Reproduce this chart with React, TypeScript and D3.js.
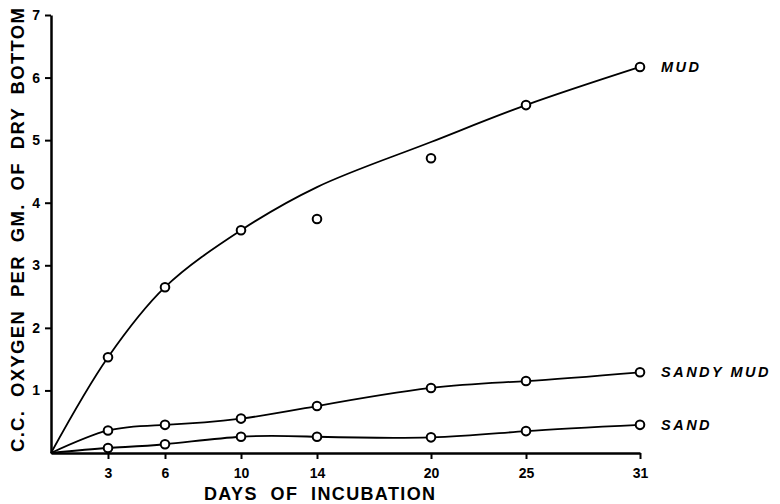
import { useEffect, useRef } from "react";
import * as d3 from "d3";

// days on which samples were measured
const days = [3, 6, 10, 14, 20, 25, 31];
const xTicks = [3, 6, 10, 14, 20, 25, 31];
const yTicks = [1, 2, 3, 4, 5, 6, 7];

// measured oxygen (c.c. per gm. of dry bottom)
const mud = [1.53, 2.65, 3.56, 3.74, 4.71, 5.56, 6.17];
const sandyMud = [0.36, 0.45, 0.55, 0.75, 1.04, 1.15, 1.29];
const sand = [0.08, 0.14, 0.26, 0.26, 0.25, 0.35, 0.45];

// smoothed mud curve as drawn in the figure (does not pass every point)
const mudCurveDays = [0, 3, 6, 10, 14, 20, 25, 31];
const mudCurve = [0, 1.53, 2.65, 3.56, 4.25, 4.97, 5.56, 6.17];

const seriesLabels = ["MUD", "SANDY MUD", "SAND"];

const App = () => {
  const ref = useRef<SVGSVGElement>(null);

  useEffect(() => {
    const w = 780;
    const h = 504;
    const svg = d3.select(ref.current);
    svg.selectAll("*").remove();

    const font = "'Liberation Sans', Arial, sans-serif";
    const x = d3.scaleLinear().domain([0, 31]).range([51, 640]);
    const y = d3.scaleLinear().domain([0, 7]).range([453, 15]);

    // axes
    const xAxis = svg.append("g").attr("transform", `translate(0,${y(0)})`)
      .call(d3.axisBottom(x).tickValues(xTicks).tickSize(6).tickSizeOuter(0).tickFormat(d3.format("d")));
    xAxis.attr("font-size", 14).attr("font-weight", "bold").attr("font-family", font);
    xAxis.select(".domain").attr("stroke", "#000").attr("stroke-width", 2.5);
    xAxis.selectAll(".tick line").attr("stroke-width", 2);
    xAxis.selectAll(".tick text").attr("dy", "1.15em").attr("fill", "#000");

    const yAxis = svg.append("g").attr("transform", `translate(${x(0)},0)`)
      .call(d3.axisLeft(y).tickValues(yTicks).tickSize(6).tickSizeOuter(0).tickFormat(d3.format("d")));
    yAxis.attr("font-size", 14).attr("font-weight", "bold").attr("font-family", font);
    yAxis.select(".domain").attr("stroke", "#000").attr("stroke-width", 2.5);
    yAxis.selectAll(".tick line").attr("stroke-width", 2);
    yAxis.selectAll(".tick text").attr("x", -11).attr("fill", "#000");

    // curves
    const mudLine = d3.line<[number, number]>()
      .x((d) => x(d[0]))
      .y((d) => y(d[1]))
      .curve(d3.curveCatmullRom.alpha(0.5));
    const smoothLine = d3.line<[number, number]>()
      .x((d) => x(d[0]))
      .y((d) => y(d[1]))
      .curve(d3.curveNatural);

    const curves: [number, number][][] = [
      mudCurveDays.map((d, i) => [d, mudCurve[i]]),
      [[0, 0], ...days.map((d, i) => [d, sandyMud[i]] as [number, number])],
      [[0, 0], ...days.map((d, i) => [d, sand[i]] as [number, number])],
    ];
    svg.selectAll(".curve").data(curves).join("path")
      .attr("class", "curve")
      .attr("d", (d, i) => (i === 0 ? mudLine(d) : smoothLine(d)))
      .attr("fill", "none")
      .attr("stroke", "#000")
      .attr("stroke-width", 1.8);

    // points
    const series = [mud, sandyMud, sand];
    series.forEach((vals) => {
      svg.append("g").selectAll("circle").data(vals).join("circle")
        .attr("cx", (_, i) => x(days[i]))
        .attr("cy", (d) => y(d))
        .attr("r", 4.3)
        .attr("fill", "#fff")
        .attr("stroke", "#000")
        .attr("stroke-width", 2);
    });

    // series labels
    svg.selectAll(".slabel").data(series).join("text")
      .attr("class", "slabel")
      .attr("x", x(31) + 21)
      .attr("y", (d) => y(d[d.length - 1]) + 5)
      .attr("font-family", font)
      .attr("font-size", 14.5)
      .attr("font-weight", "bold")
      .attr("font-style", "italic")
      .style("letter-spacing", "2.5px")
      .text((_, i) => seriesLabels[i]);

    // axis titles
    svg.append("text")
      .attr("x", 204)
      .attr("y", 500)
      .attr("textLength", 231)
      .attr("lengthAdjust", "spacing")
      .attr("font-family", font)
      .attr("font-size", 18)
      .attr("font-weight", "bold")
      .style("white-space", "pre")
      .text("DAYS  OF  INCUBATION");

    svg.append("text")
      .attr("transform", `translate(24,452) rotate(-90)`)
      .attr("textLength", 444)
      .attr("lengthAdjust", "spacing")
      .attr("font-family", font)
      .attr("font-size", 18.5)
      .attr("font-weight", "bold")
      .style("white-space", "pre")
      .text("C.C.  OXYGEN  PER  GM.  OF  DRY  BOTTOM");

    svg.attr("width", w).attr("height", h);
  }, []);

  return (
    <svg
      ref={ref}
      width={780}
      height={504}
      style={{ position: "absolute", left: 0, top: 0, background: "#fff" }}
    />
  );
};

export default App;
